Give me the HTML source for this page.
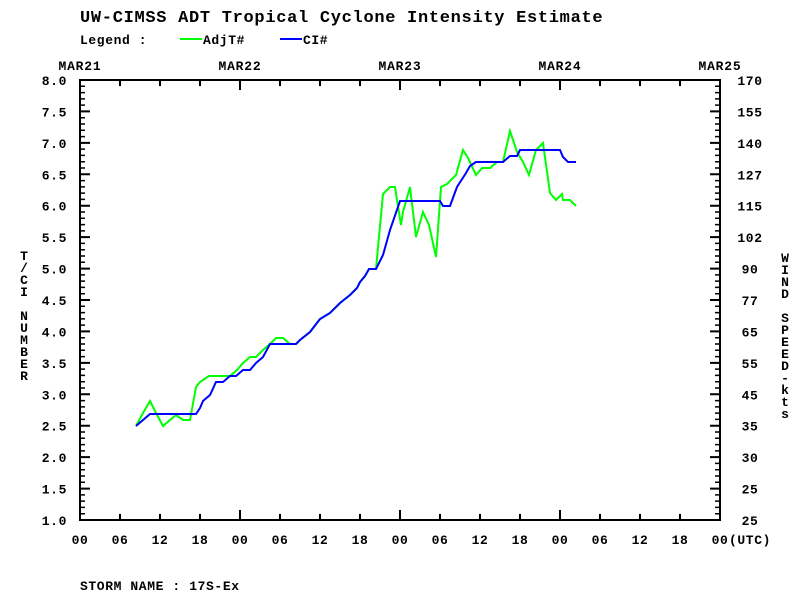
<!DOCTYPE html>
<html><head><meta charset="utf-8"><style>
html,body{margin:0;padding:0;background:#fff;}
svg{display:block;}
text{font-family:"Liberation Mono","DejaVu Sans Mono",monospace;fill:#000;font-weight:bold;}
</style></head><body>
<svg width="800" height="600" viewBox="0 0 800 600" xmlns="http://www.w3.org/2000/svg">
<text x="80" y="22" font-size="17" letter-spacing="0.7" font-weight="normal">UW-CIMSS ADT Tropical Cyclone Intensity Estimate</text>
<text x="80" y="44" font-size="13" letter-spacing="0.6">Legend :</text>
<line x1="180" y1="39" x2="202" y2="39" stroke="#00ff00" stroke-width="2"/>
<text x="203" y="44" font-size="13" letter-spacing="0.6">AdjT#</text>
<line x1="280" y1="39" x2="302" y2="39" stroke="#0000ff" stroke-width="2"/>
<text x="303" y="44" font-size="13" letter-spacing="0.6">CI#</text>
<g font-size="13" letter-spacing="0.8" text-anchor="middle">
<text x="80" y="70">MAR21</text><text x="240" y="70">MAR22</text><text x="400" y="70">MAR23</text><text x="560" y="70">MAR24</text><text x="720" y="70">MAR25</text>
</g>
<rect x="80" y="80" width="640" height="440" fill="none" stroke="#000" stroke-width="2"/>
<g stroke="#000" fill="none">
<line x1="80" y1="83" x2="721" y2="83" stroke-width="6" stroke-dasharray="2 38" stroke-dashoffset="1"/>
<line x1="80" y1="85" x2="721" y2="85" stroke-width="10" stroke-dasharray="2 158" stroke-dashoffset="1"/>
<line x1="80" y1="517" x2="721" y2="517" stroke-width="6" stroke-dasharray="2 38" stroke-dashoffset="1"/>
<line x1="80" y1="515" x2="721" y2="515" stroke-width="10" stroke-dasharray="2 158" stroke-dashoffset="1"/>
<line x1="82.5" y1="80" x2="82.5" y2="522" stroke-width="5" stroke-dasharray="1.5 4.7857" stroke-dashoffset="0.75"/>
<line x1="85" y1="80" x2="85" y2="522" stroke-width="10" stroke-dasharray="2 29.4286" stroke-dashoffset="1"/>
<line x1="717.5" y1="80" x2="717.5" y2="522" stroke-width="5" stroke-dasharray="1.5 4.7857" stroke-dashoffset="0.75"/>
<line x1="715" y1="80" x2="715" y2="522" stroke-width="10" stroke-dasharray="2 29.4286" stroke-dashoffset="1"/>
</g>
<g font-size="13" letter-spacing="0.6" text-anchor="end">
<text x="67" y="85">8.0</text><text x="67" y="116.4">7.5</text><text x="67" y="147.9">7.0</text><text x="67" y="179.3">6.5</text><text x="67" y="210.7">6.0</text><text x="67" y="242.1">5.5</text><text x="67" y="273.6">5.0</text><text x="67" y="305">4.5</text><text x="67" y="336.4">4.0</text><text x="67" y="367.9">3.5</text><text x="67" y="399.3">3.0</text><text x="67" y="430.7">2.5</text><text x="67" y="462.1">2.0</text><text x="67" y="493.6">1.5</text><text x="67" y="525">1.0</text>
</g>
<g font-size="13" letter-spacing="0.6" text-anchor="middle">
<text x="750" y="85">170</text><text x="750" y="116.4">155</text><text x="750" y="147.9">140</text><text x="750" y="179.3">127</text><text x="750" y="210.7">115</text><text x="750" y="242.1">102</text><text x="750" y="273.6">90</text><text x="750" y="305">77</text><text x="750" y="336.4">65</text><text x="750" y="367.9">55</text><text x="750" y="399.3">45</text><text x="750" y="430.7">35</text><text x="750" y="462.1">30</text><text x="750" y="493.6">25</text><text x="750" y="525">25</text>
</g>
<g font-size="13" letter-spacing="0.6" text-anchor="middle">
<text x="80" y="544">00</text><text x="120" y="544">06</text><text x="160" y="544">12</text><text x="200" y="544">18</text>
<text x="240" y="544">00</text><text x="280" y="544">06</text><text x="320" y="544">12</text><text x="360" y="544">18</text>
<text x="400" y="544">00</text><text x="440" y="544">06</text><text x="480" y="544">12</text><text x="520" y="544">18</text>
<text x="560" y="544">00</text><text x="600" y="544">06</text><text x="640" y="544">12</text><text x="680" y="544">18</text>
<text x="720" y="544">00</text>
</g>
<text x="729" y="544" font-size="13" letter-spacing="0.6">(UTC)</text>
<g font-size="13" text-anchor="middle">
<text x="24" y="260">T</text><text x="24" y="272">/</text><text x="24" y="284">C</text><text x="24" y="296">I</text>
<text x="24" y="320">N</text><text x="24" y="332">U</text><text x="24" y="344">M</text><text x="24" y="356">B</text><text x="24" y="368">E</text><text x="24" y="380">R</text>
<text x="785" y="262">W</text><text x="785" y="274">I</text><text x="785" y="286">N</text><text x="785" y="298">D</text>
<text x="785" y="322">S</text><text x="785" y="334">P</text><text x="785" y="346">E</text><text x="785" y="358">E</text><text x="785" y="370">D</text><text x="785" y="382">-</text><text x="785" y="394">k</text><text x="785" y="406">t</text><text x="785" y="418">s</text>
</g>
<polyline fill="none" stroke="#00ff00" stroke-width="2" points="136,426 143,413 150,401 156,413 163,426 170,420 176,415 183,420 190,420 196,387 200,382 209,376 216,376 230,376 237,370 243,363 250,357 256,357 263,350 270,344 276,338 283,338 290,344 296,344 300,340 310,332 320,319 330,313 340,303 350,295 357,288 360,282 365,276 369,269 376,269 383,194 390,187 395,187 397,200 401,225 403,212 410,187 416,237 423,212 429,225 436,257 441,187 447,184 456,175 463,150 468,158 476,175 482,168 490,168 497,162 503,162 510,131 517,152 523,162 529,175 536,150 543,143 550,193 556,200 562,194 563,200 570,200 576,206"/>
<polyline fill="none" stroke="#0000ff" stroke-width="2" points="136,426 143,420 150,414 196,414 200,408 203,401 210,395 216,382 223,382 230,376 236,376 243,370 250,370 256,363 263,357 270,344 296,344 300,340 310,332 320,319 330,313 340,303 350,295 357,288 360,282 365,276 369,269 376,269 383,255 390,230 400,201 440,201 443,206 450,206 457,187 466,173 470,166 476,162 503,162 510,156 517,156 520,150 560,150 563,157 568,162 576,162"/>
<text x="80" y="590" font-size="13" letter-spacing="0.6">STORM NAME :  17S-Ex</text>
</svg>
</body></html>
